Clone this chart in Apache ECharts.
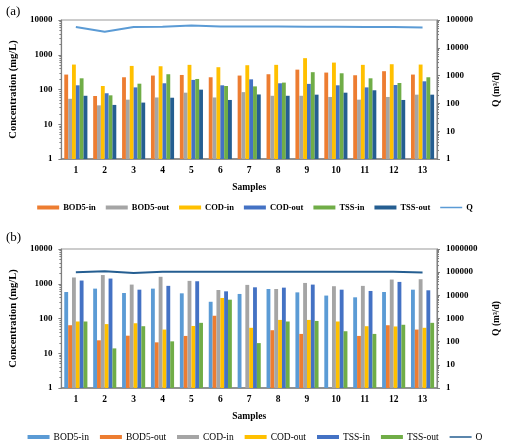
<!DOCTYPE html>
<html>
<head>
<meta charset="utf-8">
<script src="https://cdn.jsdelivr.net/npm/echarts@6/dist/echarts.min.js"></script>
<style>html,body{margin:0;padding:0;background:#fff}#c{width:510px;height:440px}</style>
</head>
<body>
<div id="c"></div>
<script>
const samples = ['1','2','3','4','5','6','7','8','9','10','11','12','13'];
// Panel (a)
const bodInA  = [269, 65, 225, 252, 262, 225, 252, 275, 373, 307, 257, 336, 269];
const bodOutA = [54, 35, 51, 59, 81, 59, 84, 66, 66, 61, 51, 61, 71];
const codInA  = [522, 126, 477, 467, 512, 438, 500, 512, 798, 595, 512, 534, 522];
const codOutA = [132, 78, 115, 151, 189, 132, 196, 151, 145, 132, 115, 135, 172];
const tssInA  = [210, 68, 147, 275, 201, 126, 123, 158, 315, 293, 210, 154, 225];
const tssOutA = [66, 36, 42, 58, 99, 50, 72, 66, 71, 81, 95, 50, 71];
const qA      = [56000, 38000, 56000, 57000, 63000, 58000, 58000, 58000, 57000, 57000, 56000, 56000, 54000];
// Panel (b)
const bodInB  = [578, 724, 541, 724, 530, 303, 509, 707, 565, 457, 407, 578, 675];
const bodOutB = [64, 23.6, 32, 20.6, 31.5, 120, null, 46, 36, null, 31.5, 64, 48];
const codInB  = [1515, 1780, 946, 1585, 1210, 660, 927, 707, 1055, 850, 868, 1320, 1350];
const codOutB = [82, 69, 73, 48, 61, 390, 54, 91, 91, 82, 60, 59, 54];
const tssInB  = [1237, 1410, 675, 870, 1180, 605, 790, 773, 945, 675, 620, 1130, 648];
const tssOutB = [82, 13.8, 60, 22, 75, 348, 19.6, 82, 85, 43, 36, 66, 75];
const qB      = [100000, 110000, 92000, 103000, 103000, 103000, 103000, 103000, 103000, 105000, 105000, 105000, 97000];

const FF = 'Liberation Serif';
const AX = '#7f7f7f';

function xAxis(gi) {
  return {
    type: 'category', gridIndex: gi, data: samples,
    name: 'Samples', nameLocation: 'middle', nameGap: 24,
    nameTextStyle: {fontFamily: FF, fontWeight: 'bold', fontSize: 9.5, color: '#000'},
    axisLine: {lineStyle: {color: AX, width: 1.5}},
    axisTick: {show: false},
    axisLabel: {fontFamily: FF, fontWeight: 'bold', fontSize: 9.5, color: '#000', margin: 7}
  };
}
function yAxis(gi, pos, max, name, gap) {
  return {
    type: 'log', logBase: 10, gridIndex: gi, position: pos, min: 1, max: max,
    name: name, nameLocation: 'middle', nameGap: gap, nameRotate: 90,
    nameTextStyle: {fontFamily: FF, fontWeight: 'bold', fontSize: pos === 'left' ? 10.5 : 9.5, color: '#000'},
    axisLine: {show: true, lineStyle: {color: AX, width: 1.2}},
    axisTick: {show: true, length: 3, lineStyle: {color: AX}},
    minorTick: {show: true, splitNumber: 9, length: 2, lineStyle: {color: AX}},
    splitLine: {show: false},
    axisLabel: {fontFamily: FF, fontWeight: 'bold', fontSize: 9, color: '#000', margin: 9,
      formatter: v => String(Math.round(v))}
  };
}
function bar(name, data, color, gi) {
  return {
    type: 'bar', name: name, data: data, xAxisIndex: gi, yAxisIndex: gi * 2,
    barGap: '0%', barCategoryGap: '20%',
    itemStyle: {color: color}
  };
}
function line(name, data, color, gi) {
  return {
    type: 'line', name: name, data: data, xAxisIndex: gi, yAxisIndex: gi * 2 + 1,
    symbol: 'none', lineStyle: {color: color, width: 2}, itemStyle: {color: color}
  };
}

const C = {orange: '#ED7D31', gray: '#A5A5A5', gold: '#FFC000', blue: '#4472C4', green: '#70AD47', dblue: '#255E91', lblue: '#5B9BD5'};
const lineIcon = 'path://M0 0h22v1.5H0z';

const option = {
  animation: false,
  backgroundColor: '#fff',
  title: [
    {text: '(a)', left: 1, top: 0, textStyle: {fontFamily: FF, fontWeight: 'normal', fontSize: 13, color: '#000'}},
    {text: '(b)', left: 1, top: 226, textStyle: {fontFamily: FF, fontWeight: 'normal', fontSize: 13, color: '#000'}}
  ],
  grid: [
    {left: 46, right: 52, top: 20, height: 139, show: true, borderColor: '#9a9a9a', borderWidth: 1.2},
    {left: 46, right: 52, top: 249, height: 139, show: true, borderColor: '#9a9a9a', borderWidth: 1.2}
  ],
  xAxis: [xAxis(0), xAxis(1)],
  yAxis: [
    yAxis(0, 'left', 10000, 'Concentration (mg/L)', 39),
    yAxis(0, 'right', 100000, 'Q (m³/d)', 55),
    yAxis(1, 'left', 10000, 'Concentration (mg/L)', 39),
    yAxis(1, 'right', 1000000, 'Q (m³/d)', 55)
  ],
  legend: [
    {top: 198, left: 'center', itemWidth: 22, itemHeight: 4, itemGap: 10, icon: 'rect',
     textStyle: {fontFamily: FF, fontWeight: 'bold', fontSize: 8.5, color: '#000', padding: [0,0,0,-1]},
     data: ['BOD5-in','BOD5-out','COD-in','COD-out','TSS-in','TSS-out',
            {name: 'Q', icon: lineIcon, itemStyle: {color: C.lblue}}]},
    {top: 427, left: 'center', itemWidth: 22, itemHeight: 4, itemGap: 11, icon: 'rect',
     formatter: n => n.replace(/^b:/, ''),
     textStyle: {fontFamily: FF, fontWeight: 'normal', fontSize: 9.5, color: '#000', padding: [0,0,0,-1]},
     data: ['b:BOD5-in','b:BOD5-out','b:COD-in','b:COD-out','b:TSS-in','b:TSS-out',
            {name: 'b:Q', icon: lineIcon, itemStyle: {color: C.dblue}}]}
  ],
  series: [
    bar('BOD5-in', bodInA, C.orange, 0),
    bar('BOD5-out', bodOutA, C.gray, 0),
    bar('COD-in', codInA, C.gold, 0),
    bar('COD-out', codOutA, C.blue, 0),
    bar('TSS-in', tssInA, C.green, 0),
    bar('TSS-out', tssOutA, C.dblue, 0),
    line('Q', qA, C.lblue, 0),
    bar('b:BOD5-in', bodInB, C.lblue, 1),
    bar('b:BOD5-out', bodOutB, C.orange, 1),
    bar('b:COD-in', codInB, C.gray, 1),
    bar('b:COD-out', codOutB, C.gold, 1),
    bar('b:TSS-in', tssInB, C.blue, 1),
    bar('b:TSS-out', tssOutB, C.green, 1),
    line('b:Q', qB, C.dblue, 1)
  ]
};
const chart = echarts.init(document.getElementById('c'), null, {renderer: 'canvas'});
chart.setOption(option);
</script>
</body>
</html>
